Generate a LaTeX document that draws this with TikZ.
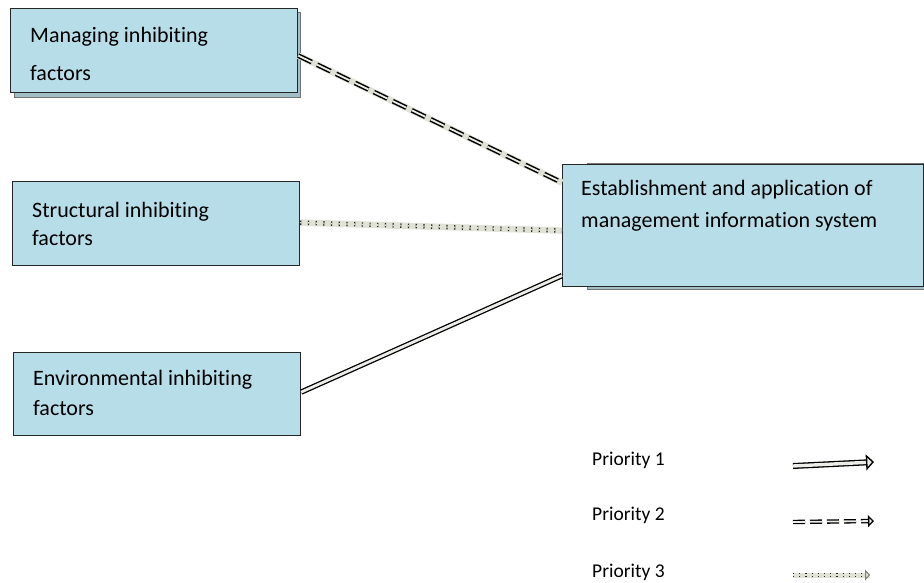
\documentclass[tikz,border=0pt]{standalone}
\usepackage{fontspec}
\setmainfont{Carlito}[Ligatures=NoCommon]
\usetikzlibrary{arrows.meta,positioning,calc}
\definecolor{boxblue}{RGB}{183,222,232}
\definecolor{shadeblue}{RGB}{160,190,200}
\definecolor{bandgray}{RGB}{224,226,214}
\definecolor{linegray}{RGB}{236,236,232}

\begin{document}
\begin{tikzpicture}[x=1pt,y=-1pt,
    box/.style={draw=black!85, line width=1.2pt, fill=boxblue, anchor=north west, inner sep=0pt},
    shadebox/.style={draw=black!55, line width=1pt, fill=shadeblue, anchor=north west, inner sep=0pt},
    boxtext/.style={anchor=north west, inner sep=0pt, align=left, font=\fontsize{22}{32}\selectfont},
    legtext/.style={anchor=base west, inner sep=0pt, font=\fontsize{19.5}{24}\selectfont},
    band/.style={line width=6.5pt, bandgray},
    prio1/.style={line width=1.3pt, double=linegray, double distance=2.8pt},
    prio2/.style={line width=1.5pt, double=linegray, double distance=1.8pt, dash pattern=on 15pt off 6pt},
    prio3/.style={line width=1.4pt, double=bandgray, double distance=1.6pt, dash pattern=on 1.2pt off 6.5pt, black!85},
    head/.style={-{Triangle[open, length=8pt, width=16pt, line width=1.4pt, fill=linegray]}}]
    \useasboundingbox (0,0) rectangle (924,582);

    % factor boxes
    \node[shadebox, minimum width=286pt, minimum height=85pt] (m1s) at (14,12) {};
    \node[box, minimum width=287pt, minimum height=84pt] (m1) at (10,8) {};
    \node[boxtext] (m1t) at (30,27) {Managing inhibiting\\[6pt]factors};

    \node[box, minimum width=287pt, minimum height=84pt] (m2) at (12,181) {};
    \node[boxtext] (m2t) at (32,202) {Structural inhibiting\\[-4pt]factors};

    \node[box, minimum width=287pt, minimum height=83pt] (m3) at (13,352) {};
    \node[boxtext] (m3t) at (33,370) {Environmental inhibiting\\[-2pt]factors};

    % target box
    \node[shadebox, minimum width=340pt, minimum height=126pt] (misS) at (587,163) {};
    \node[box, minimum width=361pt, minimum height=122pt] (mis) at (562,164) {};
    \node[boxtext] (mist) at (581,180) {Establishment and application of\\management information system};

    % connectors
    \draw[band] ($(m1.east)+(0,5)$) -- ($(mis.west)+(0,-43)$);
    \draw[prio2] ($(m1.east)+(0,5)$) -- ($(mis.west)+(0,-43)$);
    \draw[band] ($(m2.east)+(0,-1)$) -- ($(mis.west)+(0,5)$);
    \draw[prio3] ($(m2.east)+(0,-1)$) -- ($(mis.west)+(0,5)$);
    \draw[prio1] ($(m3.east)+(0,-2)$) -- ($(mis.west)+(0,50)$);

    % legend
    \node[legtext] (pr1) at (592,465) {Priority 1};
    \node[legtext] (pr2) at (592,520) {Priority 2};
    \node[legtext] (pr3) at (592,577) {Priority 3};
    \coordinate (a1) at (793,466);
    \coordinate (b1) at (874,462);
    \coordinate (a2) at (793,522);
    \coordinate (b2) at (874,521);
    \coordinate (a3) at (793,575);
    \coordinate (b3) at (870,575);
    \draw[prio1, double distance=3.4pt, head] (a1) -- (b1);
    \draw[prio2, line width=1.3pt, dash pattern=on 12pt off 5pt, -{Triangle[open, length=6pt, width=12pt, line width=1.3pt, fill=linegray]}] (a2) -- (b2);
    \draw[band, line width=5pt] (a3) -- (b3);
    \draw[prio3, dash pattern=on 1.2pt off 5pt, -{Triangle[open, length=5pt, width=11pt, line width=1pt, gray, fill=bandgray]}] (a3) -- (b3);
\end{tikzpicture}
\end{document}
